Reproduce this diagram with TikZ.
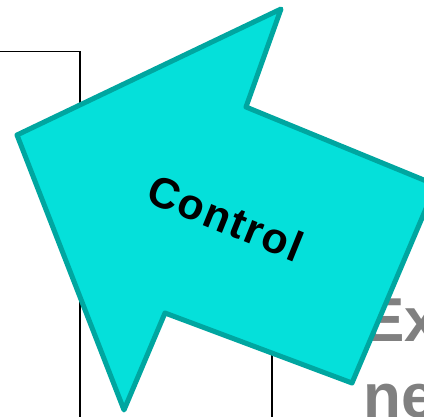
\documentclass[tikz,border=0pt]{standalone}
\usepackage{fontspec}
\setmainfont{Liberation Sans}
\definecolor{arrowfill}{RGB}{5,224,218}
\definecolor{arrowedge}{RGB}{0,166,160}
\definecolor{txtgray}{RGB}{128,128,128}
\tikzset{
  thinline/.style={line width=1.3pt, black},
  bigarrow/.style={fill=arrowfill, draw=arrowedge, line width=5pt, line join=round},
}
\begin{document}
\begin{tikzpicture}[x=1pt,y=-1pt]
\useasboundingbox (0,0) rectangle (424,417);
\draw[thinline] (0,51.5) -- (80,51.5) -- (80,417);
\draw[thinline] (272,300) -- (272,417);
\node (ex) [anchor=north west, inner sep=0, align=left, text=txtgray,
  font=\fontsize{62}{76}\selectfont\bfseries] at (363,298.5) {Ex\\ne};
\draw[bigarrow] (17,135) -- (281,9) -- (246,107) -- (436,185) -- (352,383)
  -- (165,313) -- (124,410) -- cycle;
\node (ctl) [inner sep=0, rotate=-22,
  font=\fontsize{43}{52}\selectfont\bfseries\addfontfeature{LetterSpace=4}]
  at (226,218) {Control};
\end{tikzpicture}
\end{document}
